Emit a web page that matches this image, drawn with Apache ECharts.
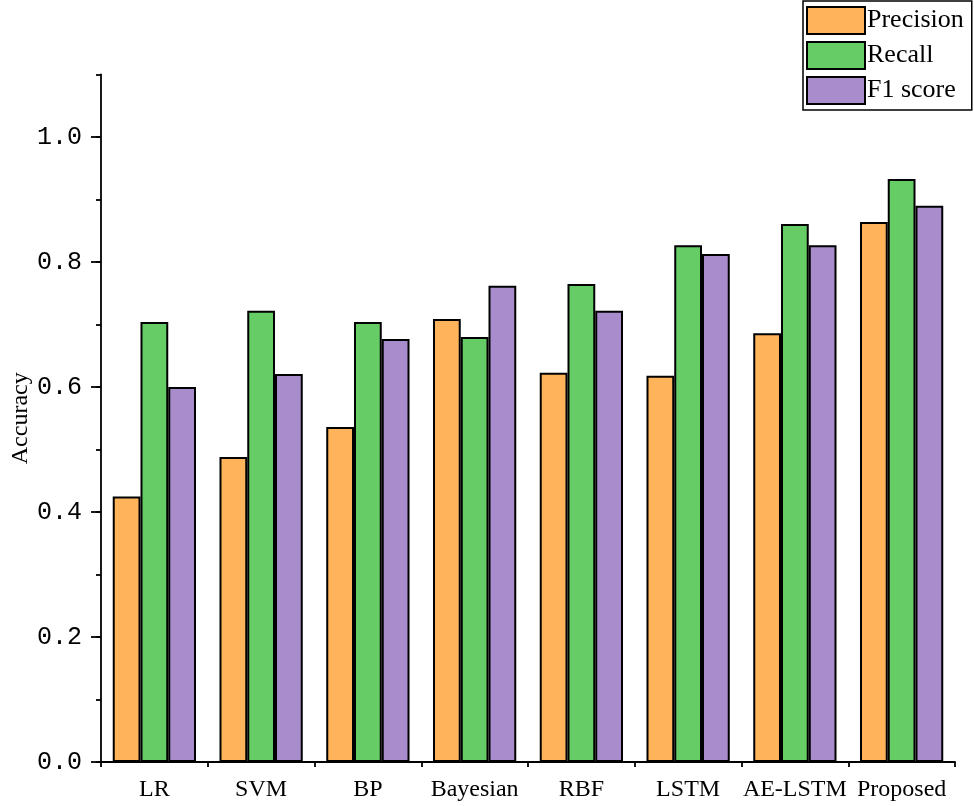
<!DOCTYPE html>
<html>
<head>
<meta charset="utf-8">
<script src="https://cdn.jsdelivr.net/npm/echarts@6/dist/echarts.min.js"></script>
<style>html,body{margin:0;padding:0;background:#fff}#c{width:974px;height:806px}</style>
</head>
<body>
<div id="c"></div>
<script>
const categories = ['LR', 'SVM', 'BP', 'Bayesian', 'RBF', 'LSTM', 'AE-LSTM', 'Proposed'];
const precision = [0.425, 0.488, 0.536, 0.709, 0.623, 0.618, 0.686, 0.864];
const recall    = [0.704, 0.722, 0.704, 0.680, 0.765, 0.827, 0.861, 0.933];
const f1score   = [0.600, 0.621, 0.677, 0.762, 0.722, 0.813, 0.827, 0.890];
const yTicks = [0, 0.2, 0.4, 0.6, 0.8, 1.0];

const chart = echarts.init(document.getElementById('c'));
const serif = '"Liberation Serif", "Times New Roman", serif';
const mono = '"Liberation Mono", "Courier New", monospace';
const border = { borderColor: '#000', borderWidth: 2 };

function bar(name, data, color) {
  return {
    name, type: 'bar', data, xAxisIndex: 0, yAxisIndex: 0,
    barGap: '0%', barCategoryGap: '22%',
    itemStyle: Object.assign({ color }, border)
  };
}

chart.setOption({
  animation: false,
  backgroundColor: '#fff',
  grid: { left: 101, right: 19, top: 74.5, bottom: 44, containLabel: false, outerBoundsMode: 'none' },
  legend: {
    orient: 'vertical', left: 803, top: 1,
    padding: [5, 8, 5, 3], itemGap: 6, itemWidth: 58, itemHeight: 27,
    borderColor: '#000', borderWidth: 1.5, backgroundColor: '#fff',
    icon: 'rect',
    textStyle: { fontFamily: serif, fontSize: 26, color: '#000', padding: [0, 0, 0, -3] },
    data: ['Precision', 'Recall', 'F1 score']
  },
  xAxis: [
    {
      type: 'category', data: categories,
      axisLine: { lineStyle: { color: '#000', width: 1.8 } },
      axisTick: { alignWithLabel: true, length: 12, lineStyle: { color: '#000', width: 1.8 } },
      axisLabel: { interval: 0, hideOverlap: false, fontFamily: serif, fontSize: 24, color: '#000', margin: 16 }
    },
    {
      type: 'category', data: categories, position: 'bottom',
      axisLine: { show: false },
      axisTick: { show: true, interval: 0, length: 5, lineStyle: { color: '#000', width: 1.8 } },
      axisLabel: { show: false }
    }
  ],
  yAxis: [
    {
      type: 'value', min: 0, max: 1.1, interval: 0.2,
      name: 'Accuracy', nameLocation: 'middle', nameGap: 68, nameMoveOverlap: false,
      nameTextStyle: { fontFamily: serif, fontSize: 24, color: '#000' },
      axisLine: { show: true, lineStyle: { color: '#000', width: 1.8 } },
      axisTick: { show: true, length: 10, customValues: yTicks, lineStyle: { color: '#000', width: 1.8 } },
      axisLabel: {
        customValues: yTicks, fontFamily: mono, fontSize: 25, color: '#000', margin: 19,
        formatter: v => v.toFixed(1)
      },
      splitLine: { show: false }
    },
    {
      type: 'value', min: 0, max: 1.1, interval: 0.1, position: 'left',
      axisLine: { show: false },
      axisTick: { show: true, length: 5, lineStyle: { color: '#000', width: 1.8 } },
      axisLabel: { show: false },
      splitLine: { show: false }
    }
  ],
  series: [
    bar('Precision', precision, '#FFB45C'),
    bar('Recall', recall, '#66CD66'),
    bar('F1 score', f1score, '#A98CCC')
  ]
});
</script>
</body>
</html>
